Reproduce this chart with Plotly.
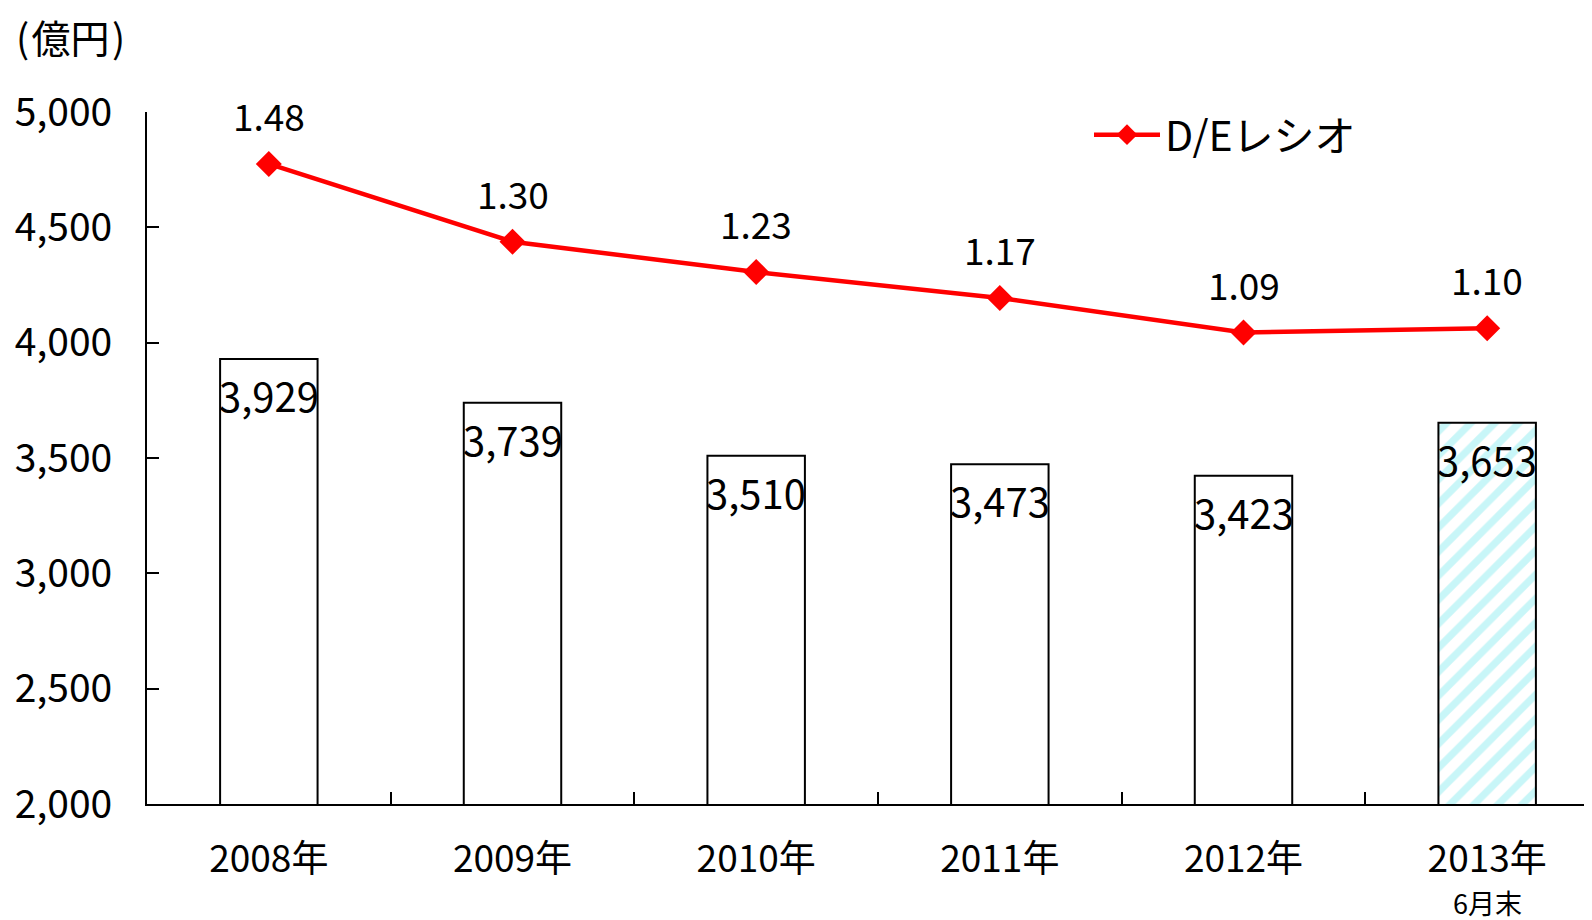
import plotly.graph_objects as go

categories = ["2008年", "2009年", "2010年", "2011年", "2012年", "2013年"]
tick_labels = ["2008年", "2009年", "2010年", "2011年", "2012年", "2013年"]
sub_label = "6月末"
debt = [3929, 3739, 3510, 3473, 3423, 3653]
de_ratio = [1.48, 1.30, 1.23, 1.17, 1.09, 1.10]

FONT = "Noto Sans CJK JP"
HATCH = "#c8f6f8"

ML, MT, PW, PH = 139, 104, 1462, 692

fig = go.Figure()

fig.add_trace(go.Bar(
    x=categories, y=debt, width=0.4,
    marker=dict(
        color="white",
        line=dict(color="black", width=2),
        pattern=dict(shape=[""] * 5 + ["/"], fgcolor=[HATCH] * 6, bgcolor=["white"] * 6,
                     size=17, solidity=0.42, fillmode="replace"),
    ),
    showlegend=False, hoverinfo="skip",
))

fig.add_trace(go.Scatter(
    x=categories, y=de_ratio, yaxis="y2", mode="lines+markers",
    name="D/Eレシオ",
    line=dict(color="#ff0000", width=4.5),
    marker=dict(symbol="diamond", size=20, color="#ff0000"),
))

for c, v in zip(categories, debt):
    fig.add_annotation(x=c, y=v, xref="x", yref="y", text=f"{v:,}",
                       showarrow=False, yshift=-36,
                       font=dict(size=40, color="black", family=FONT))
for c, v in zip(categories, de_ratio):
    fig.add_annotation(x=c, y=v, xref="x", yref="y2", text=f"{v:.2f}",
                       showarrow=False, yshift=49,
                       font=dict(size=37, color="black", family=FONT))

# second line of the last category label
fig.add_annotation(x=categories[-1], y=-(894 - MT - PH) / PH, xref="x", yref="paper",
                   text=sub_label, showarrow=False, xanchor="center", yanchor="middle",
                   font=dict(size=27, color="black", family=FONT))

fig.add_annotation(x=(6 - ML) / PW, y=1 + (MT - 27.5) / PH, xref="paper", yref="paper",
                   text="(\u200a億円\u200a)", showarrow=False, xanchor="left", yanchor="middle",
                   font=dict(size=39, color="black", family=FONT))

fig.update_layout(
    width=ML + PW + 10, height=920,
    margin=dict(l=ML, r=10, t=MT, b=920 - MT - PH, autoexpand=False),
    plot_bgcolor="white", paper_bgcolor="white",
    font=dict(family=FONT, size=37, color="black"),
    xaxis=dict(
        type="category", tickvals=categories, ticktext=tick_labels,
        showline=True, linecolor="black", linewidth=2,
        ticks="inside", tickson="boundaries", ticklen=12, tickwidth=1.5, tickcolor="black",
        showgrid=False, zeroline=False,
        tickfont=dict(size=37, family=FONT), ticklabelstandoff=22,
    ),
    yaxis=dict(
        range=[2000, 5000], dtick=500, tickformat=",",
        showline=True, linecolor="black", linewidth=2,
        ticks="inside", ticklen=12, tickwidth=1.5, tickcolor="black",
        showgrid=False, zeroline=False,
        tickfont=dict(size=39, family=FONT), ticklabelstandoff=25,
    ),
    yaxis2=dict(range=[0, 1.6], overlaying="y", visible=False),
    legend=dict(x=(1094 - 8 - ML - 5) / PW, y=1 - (127 - MT) / PH, xanchor="left", yanchor="middle",
                itemwidth=66, font=dict(size=41, family=FONT), bgcolor="rgba(0,0,0,0)"),
)

fig.write_html("out.html")
